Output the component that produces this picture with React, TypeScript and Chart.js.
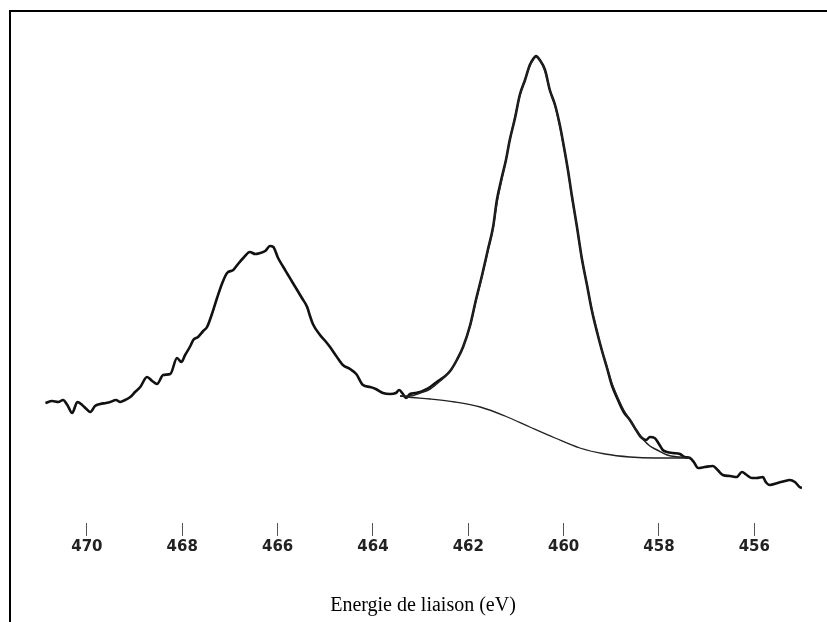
import React, { useEffect, useRef } from "react";
import { Chart, registerables } from "chart.js";

Chart.register(...registerables);

// Binding energy (eV) and intensity (arbitrary units) of the measured spectrum
const spectrumEnergy = [
  470.87, 470.73, 470.6, 470.5, 470.41, 470.31, 470.2, 470.1, 470.01, 469.93,
  469.83, 469.72, 469.6, 469.51, 469.39, 469.3, 469.2, 469.09, 468.99, 468.88,
  468.74, 468.63, 468.53, 468.4, 468.25, 468.11, 468.02, 467.94, 467.83, 467.77,
  467.67, 467.56, 467.48, 467.37, 467.27, 467.16, 467.06, 466.93, 466.83, 466.72,
  466.58, 466.47, 466.37, 466.26, 466.16, 466.09, 465.99, 465.88, 465.78, 465.68,
  465.59, 465.49, 465.38, 465.32, 465.26, 465.11, 465.0, 464.9, 464.77, 464.63,
  464.48, 464.35, 464.21, 464.06, 463.94, 463.79, 463.64, 463.52, 463.45, 463.37,
  463.31, 463.22, 463.12, 463.01, 462.91, 462.8, 462.66, 462.51, 462.38, 462.24,
  462.11, 461.96, 461.84, 461.71, 461.59, 461.48, 461.4, 461.31, 461.21, 461.13,
  461.02, 460.92, 460.81, 460.71, 460.64, 460.58, 460.5, 460.39, 460.29, 460.18,
  460.08, 460.02, 459.91, 459.83, 459.72, 459.62, 459.51, 459.41, 459.3, 459.2,
  459.09, 458.99, 458.86, 458.74, 458.61, 458.48, 458.38, 458.27, 458.19, 458.09,
  458.0, 457.92, 457.83, 457.71, 457.56, 457.46, 457.35, 457.27, 457.18, 457.04,
  456.87, 456.77, 456.66, 456.51, 456.37, 456.26, 456.16, 456.05, 455.95, 455.82,
  455.76, 455.68, 455.51, 455.36, 455.26, 455.15, 455.05, 455.0,
];
const spectrumIntensity = [
  97, 99, 98, 100, 95, 87, 98, 95, 91, 88,
  94, 96, 97, 98, 100, 98, 100, 103, 108, 113,
  123, 119, 116, 125, 126, 142, 138, 145, 154, 160,
  163, 169, 173, 187, 202, 217, 227, 230, 236, 242,
  248, 246, 247, 249, 254, 253, 242, 233, 225, 217,
  210, 202, 193, 184, 176, 165, 159, 153, 144, 135,
  131, 126, 115, 113, 111, 107, 106, 107, 110, 106,
  102, 106, 107, 108, 110, 113, 118, 123, 129, 140,
  153, 175, 200, 225, 250, 273, 300, 320, 340, 360,
  382, 405, 420, 435, 441, 444, 440, 430, 410, 395,
  375, 360, 330, 305, 273, 242, 215, 190, 168, 150,
  132, 115, 100, 88, 80, 70, 63, 60, 63, 62,
  56, 50, 48, 47, 46, 43, 42, 38, 32, 33,
  34, 30, 25, 24, 23, 28, 25, 22, 22, 23,
  18, 15, 17, 19, 20, 18, 13, 12,
];

// Fitted envelope of the main peak
const fitEnergy = [
  463.43, 463.22, 463.01, 462.8, 462.59, 462.38, 462.24, 462.11, 461.96, 461.84,
  461.71, 461.59, 461.48, 461.4, 461.31, 461.21, 461.13, 461.02, 460.92, 460.81,
  460.71, 460.64, 460.58, 460.5, 460.39, 460.29, 460.18, 460.08, 460.02, 459.91,
  459.83, 459.72, 459.62, 459.51, 459.41, 459.3, 459.2, 459.09, 458.99, 458.86,
  458.74, 458.61, 458.48, 458.34, 458.19, 458.04, 457.83, 457.56, 457.35,
];
const fitIntensity = [
  104, 104, 107, 111, 119, 129, 140, 153, 174, 199,
  224, 249, 272, 297, 318, 340, 360, 383, 404, 420,
  434, 440, 443, 440, 429, 410, 394, 374, 359, 330,
  304, 273, 242, 215, 191, 169, 150, 133, 117, 102,
  90, 80, 70, 61, 54, 50, 45, 43, 42,
];

// Background (Shirley-type) under the main peak
const backgroundEnergy = [
  463.43, 463.29, 462.8, 462.28, 461.75, 461.23, 460.71, 460.18, 459.66, 459.13,
  458.61, 458.09, 457.56, 457.35,
];
const backgroundIntensity = [104, 103, 101, 98, 93, 84, 73, 62, 52, 46, 43, 42, 42, 42];

const xTicks = [470, 468, 466, 464, 462, 460, 458, 456];
const xTitle = "Energie de liaison (eV)";

const toPoints = (xs: number[], ys: number[]) => xs.map((x, i) => ({ x, y: ys[i] }));

export default function App() {
  const canvasRef = useRef<HTMLCanvasElement | null>(null);

  useEffect(() => {
    if (!canvasRef.current) return;
    const chart = new Chart(canvasRef.current, {
      type: "line",
      data: {
        datasets: [
          {
            data: toPoints(backgroundEnergy, backgroundIntensity),
            borderColor: "#222",
            borderWidth: 1.3,
            pointRadius: 0,
            cubicInterpolationMode: "monotone",
          },
          {
            data: toPoints(fitEnergy, fitIntensity),
            borderColor: "#222",
            borderWidth: 1.5,
            pointRadius: 0,
            cubicInterpolationMode: "monotone",
          },
          {
            data: toPoints(spectrumEnergy, spectrumIntensity),
            borderColor: "#111",
            borderWidth: 2.6,
            pointRadius: 0,
            cubicInterpolationMode: "monotone",
          },
        ],
      },
      options: {
        animation: false,
        responsive: false,
        maintainAspectRatio: false,
        layout: { padding: { left: 44, right: 25, top: 20, bottom: 0 } },
        plugins: { legend: { display: false }, tooltip: { enabled: false } },
        scales: {
          x: {
            type: "linear",
            reverse: true,
            min: 455,
            max: 470.9,
            afterBuildTicks: (scale: any) => {
              scale.ticks = xTicks.map((v) => ({ value: v }));
            },
            border: { display: false },
            grid: {
              drawOnChartArea: false,
              drawTicks: true,
              tickLength: 13,
              color: "#555",
              lineWidth: 1,
            },
            ticks: {
              padding: 2,
              color: "#222",
              maxRotation: 0,
              autoSkip: false,
              font: { family: "DejaVu Sans", size: 15, weight: "bold" },
            },
            title: {
              display: true,
              text: xTitle,
              color: "#000",
              font: { family: "Liberation Serif", size: 20, weight: "normal" },
              padding: { top: 36, bottom: 4 },
            },
          },
          y: {
            type: "linear",
            display: false,
            min: -23,
            max: 480,
          },
        },
      },
    });
    return () => chart.destroy();
  }, []);

  return (
    <div style={{ position: "absolute", left: 0, top: 0, width: 827, height: 622, background: "#fff", overflow: "hidden" }}>
      <div
        style={{
          position: "absolute",
          left: 9,
          top: 10,
          right: 0,
          bottom: 0,
          borderTop: "2px solid #000",
          borderLeft: "2px solid #000",
        }}
      />
      <canvas ref={canvasRef} width={827} height={622} style={{ position: "absolute", left: 0, top: 0 }} />
    </div>
  );
}
